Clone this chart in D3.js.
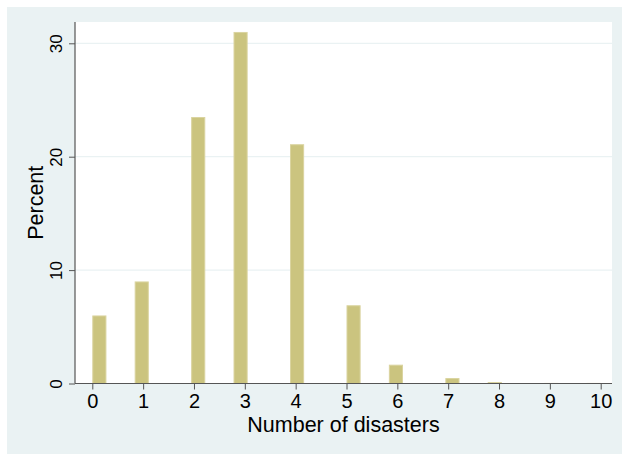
<!DOCTYPE html>
<html>
<head>
<meta charset="utf-8">
<script src="https://cdn.jsdelivr.net/npm/d3@7"></script>
<style>
  html, body { margin: 0; padding: 0; background: #ffffff; }
  svg { display: block; }
  text { font-family: "Liberation Sans", Arial, Helvetica, sans-serif; fill: #000; }
</style>
</head>
<body>
<svg id="chart" width="622" height="454"></svg>
<script>
// Data: number of disasters (value) and percent of observations
const disasterValues = [0, 1, 2, 3, 4, 5, 6, 7, 8, 9, 10];
const percentValues  = [6.0, 9.0, 23.5, 31.0, 21.1, 6.9, 1.66, 0.48, 0.13, 0.05, 0.05];
const xTickLabels = [0, 1, 2, 3, 4, 5, 6, 7, 8, 9, 10];
const yTickLabels = [0, 10, 20, 30];
const binCount = 36;   // histogram bins over [0, 10]

const svg = d3.select("#chart");
const W = 622, H = 454;

// outer graph region
svg.append("rect").attr("x", 7).attr("y", 7).attr("width", W - 7).attr("height", H - 7)
  .attr("fill", "#eaf2f3");

const plot = { left: 75, right: 612, top: 22, bottom: 383.5 };
svg.append("rect").attr("x", plot.left).attr("y", plot.top)
  .attr("width", plot.right - plot.left).attr("height", plot.bottom - plot.top)
  .attr("fill", "#ffffff");

const x = d3.scaleLinear().domain([0, 10]).range([92.3, 600.7]);
const y = d3.scaleLinear().domain([0, 30]).range([plot.bottom, 43.3]);

// gridlines
svg.append("g").selectAll("line").data(yTickLabels.filter(d => d > 0)).join("line")
  .attr("x1", plot.left).attr("x2", plot.right)
  .attr("y1", d => y(d)).attr("y2", d => y(d))
  .attr("stroke", "#eaf2f3").attr("stroke-width", 1.2);

// histogram bars
const binW = 10 / binCount;
const bars = disasterValues.map((v, i) => {
  let k = Math.floor(v / binW + 1e-9);
  if (k >= binCount) k = binCount - 1;
  return { x0: k * binW, x1: (k + 1) * binW, p: percentValues[i] };
});
svg.append("g").selectAll("rect").data(bars).join("rect")
  .attr("x", d => x(d.x0) + 0.5)
  .attr("width", d => x(d.x1) - x(d.x0) - 1)
  .attr("y", d => y(d.p) + 0.5)
  .attr("height", d => Math.max(0, y(0) - y(d.p) - 0.5))
  .attr("fill", "#cbc47f")
  .attr("stroke", "#dad4a0")
  .attr("stroke-width", 1);

// x axis
const xAxis = d3.axisBottom(x).tickValues(xTickLabels).tickSize(6).tickPadding(4)
  .tickFormat(d3.format("d"));
const gx = svg.append("g").attr("transform", `translate(0,${plot.bottom})`).call(xAxis);
gx.select(".domain").attr("d", `M${plot.left},0H${plot.right}`).attr("stroke", "#555").attr("stroke-width", 1.2);
gx.selectAll(".tick line").attr("stroke", "#555");
gx.selectAll(".tick text").attr("font-size", 20).attr("font-family", "Liberation Sans, Arial, sans-serif").attr("fill", "#000");

// y axis
const yAxis = d3.axisLeft(y).tickValues(yTickLabels).tickSize(6).tickPadding(6)
  .tickFormat(d3.format("d"));
const gy = svg.append("g").attr("transform", `translate(${plot.left},0)`).call(yAxis);
gy.select(".domain").attr("d", `M0,${plot.top}V${plot.bottom}`).attr("stroke", "#555").attr("stroke-width", 1.2);
gy.selectAll(".tick line").attr("stroke", "#555");
gy.selectAll(".tick text")
  .attr("font-size", 17).attr("font-family", "Liberation Sans, Arial, sans-serif").attr("fill", "#000")
  .attr("x", null).attr("dy", null)
  .attr("text-anchor", "middle")
  .attr("transform", "translate(-13.5,0) rotate(-90)");

// axis titles
svg.append("text").attr("x", (plot.left + plot.right) / 2).attr("y", 432)
  .attr("text-anchor", "middle").attr("font-size", 21.5).text("Number of disasters");
svg.append("text")
  .attr("transform", `translate(42.5,${(plot.top + plot.bottom) / 2}) rotate(-90)`)
  .attr("text-anchor", "middle").attr("font-size", 21.5).text("Percent");
</script>
</body>
</html>
